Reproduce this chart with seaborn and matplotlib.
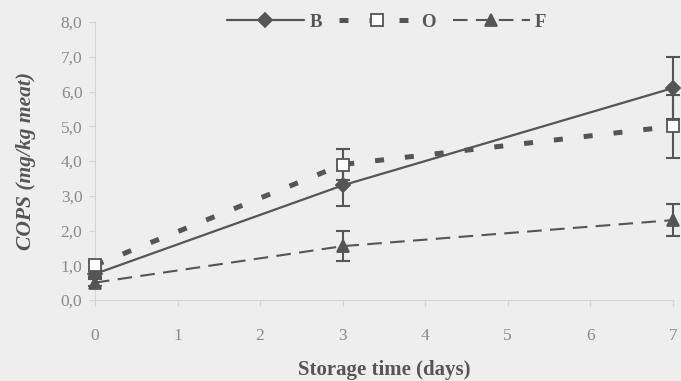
import matplotlib
matplotlib.use("Agg")
import matplotlib.pyplot as plt
import numpy as np
import pandas as pd
import seaborn as sns

# данные
days = [0, 3, 7]
b_vals = [0.75, 3.3, 6.1]
b_err = [0.1, 0.6, 0.9]
o_vals = [1.0, 3.9, 5.0]
o_err = [0.1, 0.45, 0.9]
f_vals = [0.5, 1.55, 2.3]
f_err = [0.1, 0.43, 0.45]
y_ticks = [0, 1, 2, 3, 4, 5, 6, 7, 8]
y_ticklabels = ['0,0', '1,0', '2,0', '3,0', '4,0', '5,0', '6,0', '7,0', '8,0']

bg = '#eeeeee'
ink = '#555555'
sns.set_style('white')
plt.rcParams['font.family'] = ['Liberation Serif', 'DejaVu Serif']

df = pd.DataFrame({
    'day': days * 3,
    'value': b_vals + o_vals + f_vals,
    'err': b_err + o_err + f_err,
    'series': ['B'] * 3 + ['O'] * 3 + ['F'] * 3,
})

fig = plt.figure(figsize=(6.81, 3.81), dpi=100, facecolor=bg)
ax = fig.add_axes([0.1395, 0.2126, 0.8485, 0.7294])
ax.set_facecolor(bg)

styles = {
    'B': dict(marker='D', mfc=ink, lw=1.6, ls='-', ms=7),
    'O': dict(marker='s', mfc='white', lw=3.6, ls=(0, (1.8, 4.2)), ms=8),
    'F': dict(marker='^', mfc=ink, lw=1.5, ls=(0, (7, 4)), ms=8),
}

handles = []
for name in ['B', 'O', 'F']:
    sub = df[df['series'] == name]
    st = styles[name]
    ax.errorbar(sub['day'], sub['value'], yerr=sub['err'], fmt='none',
                ecolor=ink, elinewidth=1.5, capsize=5, capthick=1.5,
                clip_on=False, zorder=3)
    sns.lineplot(data=sub, x='day', y='value', ax=ax, color=ink,
                 linewidth=st['lw'], linestyle=st['ls'], marker=st['marker'],
                 markersize=st['ms'], markerfacecolor=st['mfc'],
                 markeredgecolor=ink, markeredgewidth=1.3, clip_on=False,
                 zorder=4, legend=False)
    handles.append(ax.lines[-1])

ax.set_xlim(0, 7)
ax.set_ylim(0, 8)
ax.set_yticks(y_ticks)
ax.set_yticklabels(y_ticklabels)
ax.set_xticks(range(0, 8))

for side in ['top', 'right']:
    ax.spines[side].set_visible(False)
for side in ['left', 'bottom']:
    ax.spines[side].set_color('#d4d4d4')
    ax.spines[side].set_linewidth(0.8)

ax.tick_params(axis='y', which='major', direction='out', length=4, width=0.8,
               color='#d4d4d4', labelcolor='#8a8a8a', labelsize=12.5, pad=5, left=True)
ax.tick_params(axis='x', which='major', direction='out', length=4, width=0.8,
               color='#d4d4d4', labelcolor='#8a8a8a', labelsize=12.5, pad=16, bottom=True)

ax.set_xlabel('Storage time (days)', fontsize=15, fontweight='bold', color=ink, labelpad=12)
ax.set_ylabel('COPS (mg/kg meat)', fontsize=15.5, fontweight='bold', fontstyle='italic',
              color=ink, labelpad=18)

leg = ax.legend(handles, ['B', 'O', 'F'], loc='center', bbox_to_anchor=(0.505, 1.0),
                ncol=3, frameon=False, handlelength=4.1, columnspacing=0.9,
                handletextpad=0.3, prop={'weight': 'bold', 'size': 13.5})
for t in leg.get_texts():
    t.set_color(ink)

fig.savefig('out.png', dpi=100, facecolor=bg)
